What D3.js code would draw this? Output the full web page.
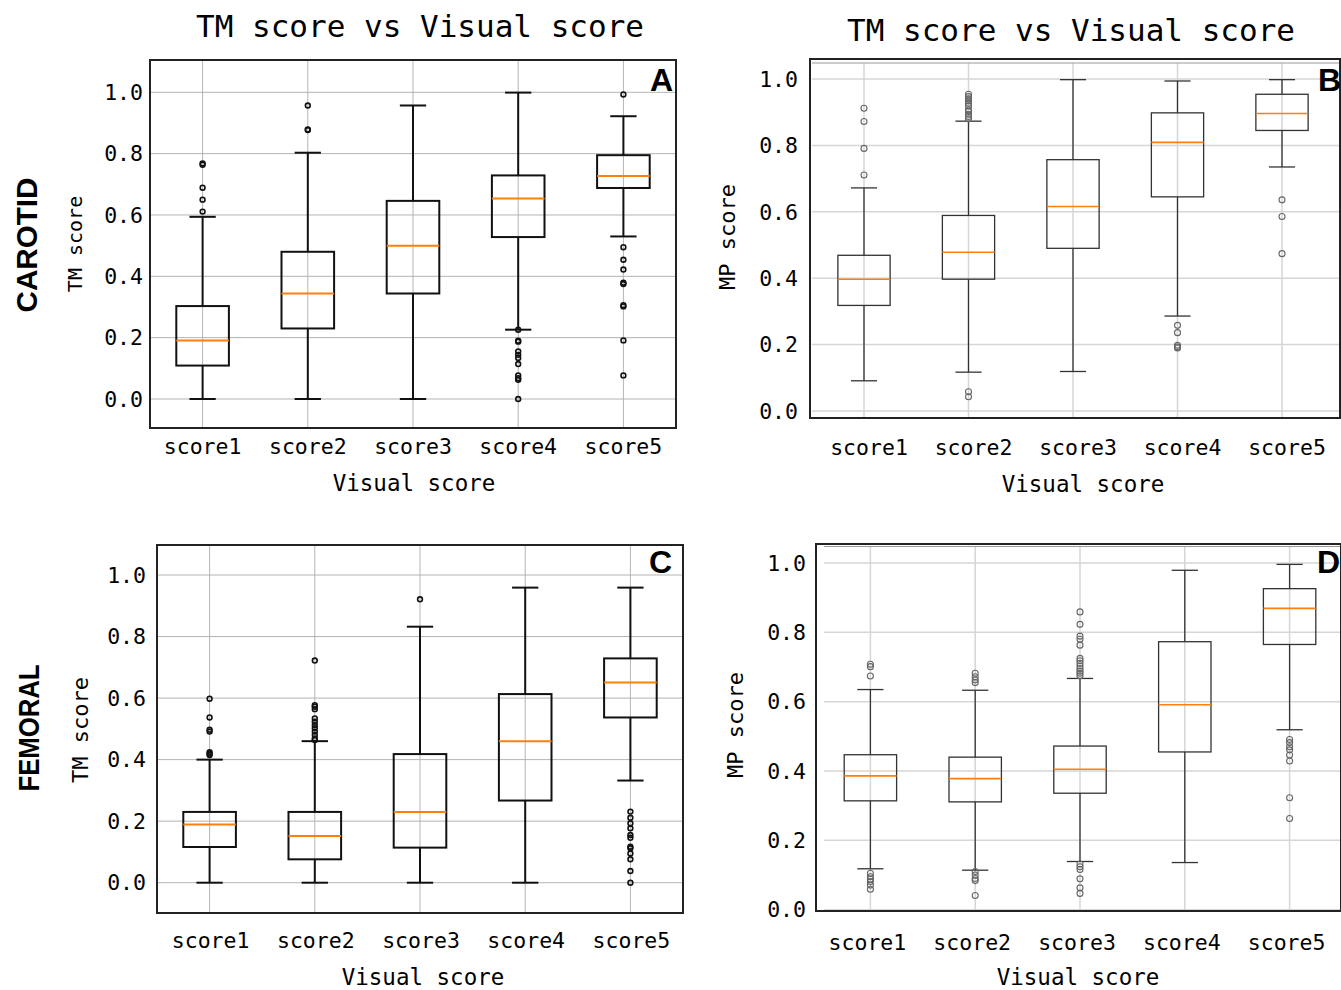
<!DOCTYPE html>
<html>
<head>
<meta charset="utf-8">
<script src="https://cdn.jsdelivr.net/npm/d3@7"></script>
<style>
  body { margin: 0; background: #fff; }
  text { font-family: "DejaVu Sans Mono", monospace; fill: #000; }
</style>
</head>
<body>
<div id="figure"></div>
<script>

var categories = ["score1", "score2", "score3", "score4", "score5"];
var yTicks = [0, 0.2, 0.4, 0.6, 0.8, 1.0];

// A: carotid, TM score
var aLow  = [0, 0, 0, 0.226, 0.530];
var aQ1   = [0.109, 0.230, 0.344, 0.528, 0.688];
var aMed  = [0.191, 0.344, 0.500, 0.654, 0.727];
var aQ3   = [0.303, 0.480, 0.646, 0.729, 0.795];
var aHigh = [0.594, 0.803, 0.957, 0.999, 0.922];
var aOut  = [[0.611, 0.650, 0.689, 0.764, 0.768],
             [0.877, 0.879, 0.957],
             [],
             [0.226, 0.190, 0.187, 0.155, 0.144, 0.134, 0.114, 0.077, 0.068, 0.063, 0],
             [0.993, 0.495, 0.454, 0.422, 0.379, 0.375, 0.306, 0.302, 0.191, 0.077]];

// B: carotid, MP score
var bLow  = [0.091, 0.117, 0.119, 0.286, 0.735];
var bQ1   = [0.318, 0.397, 0.490, 0.645, 0.845];
var bMed  = [0.397, 0.478, 0.616, 0.809, 0.896];
var bQ3   = [0.469, 0.589, 0.757, 0.898, 0.954];
var bHigh = [0.672, 0.873, 0.998, 0.994, 0.998];
var bOut  = [[0.711, 0.791, 0.872, 0.912],
             [0.043, 0.058, 0.880, 0.887, 0.894, 0.902, 0.907, 0.919, 0.927, 0.934, 0.940, 0.947, 0.954],
             [],
             [0.190, 0.193, 0.198, 0.236, 0.258],
             [0.474, 0.586, 0.636]];

// C: femoral, TM score
var cLow  = [0, 0, 0, 0, 0.332];
var cQ1   = [0.116, 0.076, 0.114, 0.267, 0.537];
var cMed  = [0.189, 0.152, 0.230, 0.460, 0.651];
var cQ3   = [0.230, 0.230, 0.418, 0.613, 0.729];
var cHigh = [0.400, 0.460, 0.832, 0.959, 0.959];
var cOut  = [[0.415, 0.419, 0.424, 0.491, 0.497, 0.537, 0.598],
             [0.464, 0.469, 0.480, 0.491, 0.502, 0.512, 0.523, 0.534, 0.564, 0.572, 0.577, 0.722],
             [0.921],
             [],
             [0, 0.038, 0.076, 0.095, 0.112, 0.117, 0.146, 0.155, 0.177, 0.193, 0.211, 0.231]];

// D: femoral, MP score
var dLow  = [0.118, 0.114, 0.139, 0.136, 0.519];
var dQ1   = [0.314, 0.311, 0.336, 0.455, 0.765];
var dMed  = [0.386, 0.378, 0.405, 0.591, 0.869];
var dQ3   = [0.447, 0.440, 0.472, 0.773, 0.926];
var dHigh = [0.635, 0.633, 0.667, 0.979, 0.996];
var dOut  = [[0.059, 0.071, 0.081, 0.088, 0.095, 0.105, 0.674, 0.701, 0.708],
             [0.041, 0.084, 0.090, 0.100, 0.110, 0.655, 0.663, 0.672, 0.682],
             [0.047, 0.063, 0.089, 0.116, 0.124, 0.132, 0.675, 0.682, 0.688, 0.695, 0.703, 0.711, 0.718, 0.725, 0.763, 0.780, 0.789, 0.823, 0.859],
             [],
             [0.263, 0.323, 0.429, 0.446, 0.461, 0.470, 0.482, 0.491]];

var heavy = { line: "#111", lw: 2, grid: "#b4b4b4", gw: 1, med: "#ff7f0e", mw: 2, fly: "#111", fw: 1.6, r: 2.4 };
var light = { line: "#333", lw: 1.3, grid: "#d6d6d6", gw: 1.5, med: "#ff7f0e", mw: 1.6, fly: "#666", fw: 1.1, r: 3 };

var panels = [
  { letter: "A", low: aLow, q1: aQ1, med: aMed, q3: aQ3, high: aHigh, out: aOut, st: heavy,
    frame: [150, 676, 60, 428], xr: [150, 676], yr: [399, 92.3], gridX0: 150, inner: null,
    title: { x: 420, y: 37 }, tickRight: 143, xlBase: 454, xlShift: 0,
    xTitle: { x: 414, y: 491 }, yTitle: { text: "TM score", x: 75, y: 244, size: 20 },
    letterPos: [673, 91] },
  { letter: "B", low: bLow, q1: bQ1, med: bMed, q3: bQ3, high: bHigh, out: bOut, st: light,
    frame: [810, 1340, 59, 418], xr: [811.75, 1334.25], yr: [411, 79], gridX0: 812, inner: 63,
    title: { x: 1071, y: 41 }, tickRight: 798, xlBase: 455, xlShift: 5,
    xTitle: { x: 1083, y: 492 }, yTitle: { text: "MP score", x: 727, y: 237, size: 22 },
    letterPos: [1341, 91] },
  { letter: "C", low: cLow, q1: cQ1, med: cMed, q3: cQ3, high: cHigh, out: cOut, st: heavy,
    frame: [157, 683, 545, 913], xr: [157, 683], yr: [882.7, 575], gridX0: 157, inner: null,
    title: null, tickRight: 146, xlBase: 948, xlShift: 1,
    xTitle: { x: 423, y: 985 }, yTitle: { text: "TM score", x: 80, y: 730, size: 22 },
    letterPos: [672, 573] },
  { letter: "D", low: dLow, q1: dQ1, med: dMed, q3: dQ3, high: dHigh, out: dOut, st: light,
    frame: [816, 1341, 544, 911], xr: [818, 1342], yr: [909.7, 563], gridX0: 824, inner: 546.5,
    title: null, tickRight: 806, xlBase: 950, xlShift: -3,
    xTitle: { x: 1078, y: 985 }, yTitle: { text: "MP score", x: 735, y: 725, size: 22 },
    letterPos: [1340, 573] }
];

var svg = d3.select("#figure").append("svg")
  .attr("width", 1341)
  .attr("height", 990);

panels.forEach(drawPanel);

// row labels on the left
svg.append("text")
  .attr("transform", "translate(26,245) rotate(-90)")
  .attr("text-anchor", "middle")
  .attr("dy", "0.36em")
  .attr("textLength", 135)
  .attr("lengthAdjust", "spacingAndGlyphs")
  .style("font-family", "'Liberation Sans', Arial, sans-serif")
  .style("font-weight", "bold")
  .style("font-size", "30px")
  .text("CAROTID");

svg.append("text")
  .attr("transform", "translate(28,728) rotate(-90)")
  .attr("text-anchor", "middle")
  .attr("dy", "0.36em")
  .attr("textLength", 127)
  .attr("lengthAdjust", "spacingAndGlyphs")
  .style("font-family", "'Liberation Sans', Arial, sans-serif")
  .style("font-weight", "bold")
  .style("font-size", "30px")
  .text("FEMORAL");

function drawPanel(p) {
  var st = p.st;
  var f = p.frame;
  var g = svg.append("g").attr("class", "panel-" + p.letter);

  var x = d3.scaleLinear().domain([0.5, 5.5]).range(p.xr);
  var y = d3.scaleLinear().domain([0, 1]).range(p.yr);
  var step = x(2) - x(1);
  var boxW = step * 0.5, capW = step * 0.25;
  var gridTop = p.inner ? p.inner : f[2];

  // grid
  g.selectAll(".hgrid")
    .data(yTicks)
    .enter().append("line")
    .attr("x1", p.gridX0).attr("x2", f[1])
    .attr("y1", function(d) { return y(d); })
    .attr("y2", function(d) { return y(d); })
    .style("stroke", st.grid).style("stroke-width", st.gw);

  g.selectAll(".vgrid")
    .data(categories)
    .enter().append("line")
    .attr("x1", function(d, i) { return x(i + 1); })
    .attr("x2", function(d, i) { return x(i + 1); })
    .attr("y1", gridTop).attr("y2", f[3])
    .style("stroke", st.grid).style("stroke-width", st.gw);

  if (p.inner) {
    g.append("line")
      .attr("x1", p.gridX0).attr("x2", f[1])
      .attr("y1", p.inner).attr("y2", p.inner)
      .style("stroke", "#999").style("stroke-width", 1.2);
  }

  var rows = categories.map(function(c, i) {
    return { i: i, low: p.low[i], q1: p.q1[i], med: p.med[i], q3: p.q3[i], high: p.high[i], out: p.out[i] };
  });

  var box = g.selectAll(".box")
    .data(rows)
    .enter().append("g")
    .attr("class", "box")
    .attr("transform", function(d) { return "translate(" + x(d.i + 1) + ",0)"; });

  // whiskers
  box.append("line")
    .attr("x1", 0).attr("x2", 0)
    .attr("y1", function(d) { return y(d.low); })
    .attr("y2", function(d) { return y(d.q1); })
    .style("stroke", st.line).style("stroke-width", st.lw);
  box.append("line")
    .attr("x1", 0).attr("x2", 0)
    .attr("y1", function(d) { return y(d.q3); })
    .attr("y2", function(d) { return y(d.high); })
    .style("stroke", st.line).style("stroke-width", st.lw);

  ["low", "high"].forEach(function(k) {
    box.append("line")
      .attr("x1", -capW / 2).attr("x2", capW / 2)
      .attr("y1", function(d) { return y(d[k]); })
      .attr("y2", function(d) { return y(d[k]); })
      .style("stroke", st.line).style("stroke-width", st.lw);
  });

  box.append("rect")
    .attr("x", -boxW / 2)
    .attr("width", boxW)
    .attr("y", function(d) { return y(d.q3); })
    .attr("height", function(d) { return y(d.q1) - y(d.q3); })
    .style("fill", "none")
    .style("stroke", st.line).style("stroke-width", st.lw);

  box.append("line")
    .attr("x1", -boxW / 2).attr("x2", boxW / 2)
    .attr("y1", function(d) { return y(d.med); })
    .attr("y2", function(d) { return y(d.med); })
    .style("stroke", st.med).style("stroke-width", st.mw);

  // fliers
  box.selectAll(".flier")
    .data(function(d) { return d.out; })
    .enter().append("circle")
    .attr("cx", 0)
    .attr("cy", function(v) { return y(v); })
    .attr("r", st.r)
    .style("fill", "none")
    .style("stroke", st.fly).style("stroke-width", st.fw);

  // frame
  g.append("rect")
    .attr("x", f[0]).attr("y", f[2])
    .attr("width", f[1] - f[0]).attr("height", f[3] - f[2])
    .style("fill", "none")
    .style("stroke", "#222").style("stroke-width", 2);

  // tick labels
  g.selectAll(".ytick")
    .data(yTicks)
    .enter().append("text")
    .attr("x", p.tickRight)
    .attr("y", function(d) { return y(d); })
    .attr("dy", "0.36em")
    .attr("text-anchor", "end")
    .style("font-size", "21.5px")
    .text(function(d) { return d3.format(".1f")(d); });

  g.selectAll(".xtick")
    .data(categories)
    .enter().append("text")
    .attr("x", function(d, i) { return x(i + 1) + p.xlShift; })
    .attr("y", p.xlBase)
    .attr("text-anchor", "middle")
    .style("font-size", "21.5px")
    .text(function(d) { return d; });

  g.append("text")
    .attr("x", p.xTitle.x).attr("y", p.xTitle.y)
    .attr("text-anchor", "middle")
    .style("font-size", "22.5px")
    .text("Visual score");

  g.append("text")
    .attr("transform", "translate(" + p.yTitle.x + "," + p.yTitle.y + ") rotate(-90)")
    .attr("text-anchor", "middle")
    .attr("dy", "0.36em")
    .style("font-size", p.yTitle.size + "px")
    .text(p.yTitle.text);

  if (p.title) {
    g.append("text")
      .attr("x", p.title.x).attr("y", p.title.y)
      .attr("text-anchor", "middle")
      .style("font-size", "31px")
      .text("TM score vs Visual score");
  }

  g.append("text")
    .attr("x", p.letterPos[0]).attr("y", p.letterPos[1])
    .attr("text-anchor", "end")
    .style("font-family", "'Liberation Sans', Arial, sans-serif")
    .style("font-weight", "bold")
    .style("font-size", "32px")
    .text(p.letter);
}

</script>
</body>
</html>
